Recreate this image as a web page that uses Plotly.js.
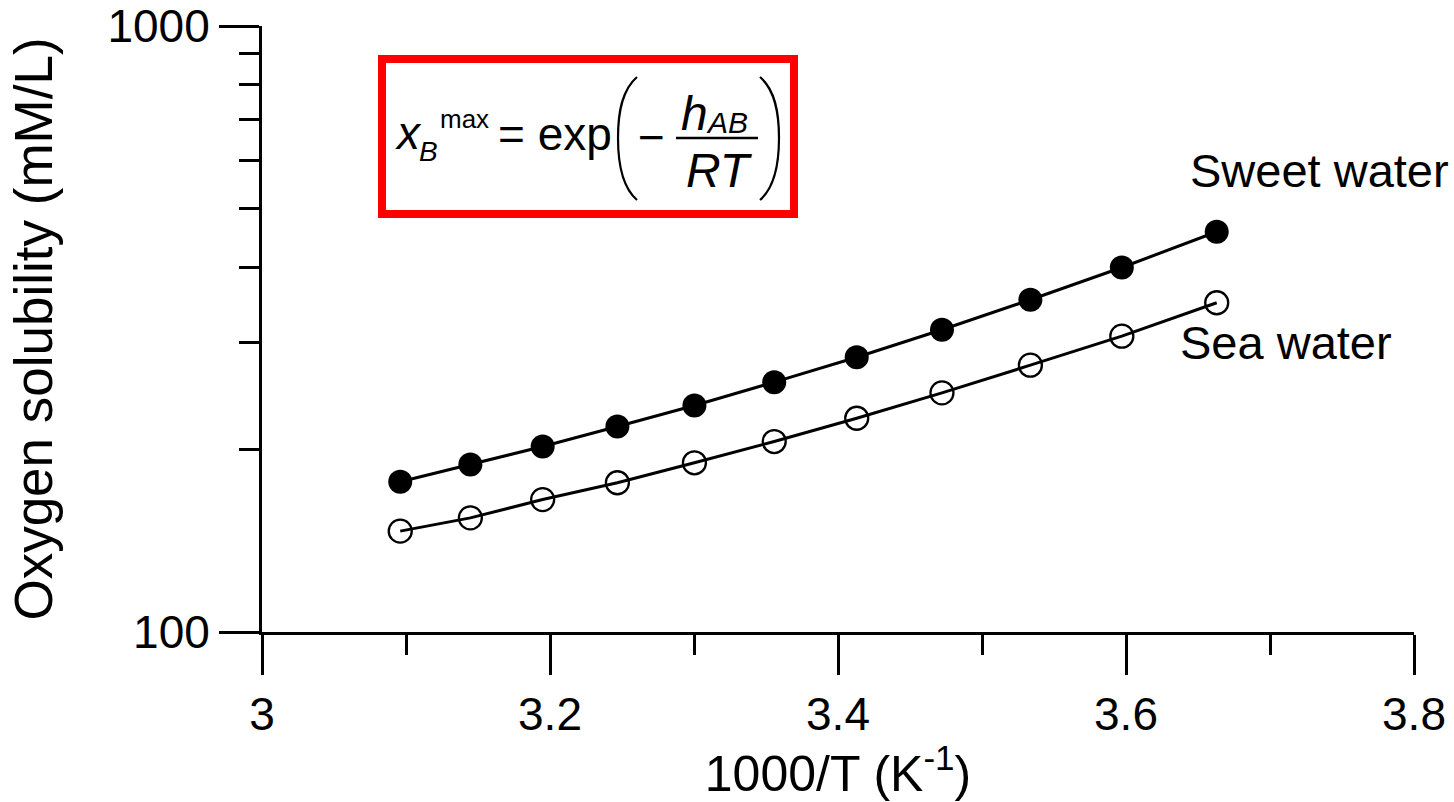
<!DOCTYPE html>
<html>
<head>
<meta charset="utf-8">
<script src="https://cdn.plot.ly/plotly-3.0.1.min.js"></script>
<style>
  html, body { margin: 0; padding: 0; background: #fff; }
  #chart { width: 1454px; height: 802px; }
</style>
</head>
<body>
<div id="chart"></div>
<script>
// ---- data ----
const invT = [3.0960, 3.1447, 3.1949, 3.2468, 3.3003, 3.3557, 3.4130, 3.4722, 3.5336, 3.5971, 3.6630];
const sweetWater = [177.0, 189.0, 202.3, 218.3, 236.5, 258.4, 284.1, 315.3, 353.4, 399.5, 457.6];
const seaWater = [146.7, 154.3, 165.4, 176.3, 190.2, 206.2, 225.3, 248.1, 275.6, 307.7, 349.4];
const seriesNames = ["Sweet water", "Sea water"];
const yTickVals = [100, 1000];
const yTickText = ["100", "1000"];
const yMinorVals = [200, 300, 400, 500, 600, 700, 800, 900];

// ---- layout geometry ----
const W = 1454, H = 802;
const M = { l: 262, r: 40, t: 26, b: 170 };
const PW = W - M.l - M.r, PH = H - M.t - M.b;
const px = x => (x - M.l) / PW;
const py = y => (H - M.b - y) / PH;
const FONT = "Liberation Sans, Arial, Helvetica, sans-serif";

function ann(text, x, y, size, xanchor, extra) {
  return Object.assign({
    text: text, xref: "paper", yref: "paper", x: px(x), y: py(y),
    xanchor: xanchor || "left", yanchor: "middle", showarrow: false,
    font: { family: FONT, size: size, color: "#000" },
    borderpad: 0, borderwidth: 0
  }, extra || {});
}
function P(x, y) { return px(x).toFixed(5) + "," + py(y).toFixed(5); }

const traces = [
  {
    x: invT, y: sweetWater, name: seriesNames[0], type: "scatter", mode: "lines+markers",
    line: { color: "#000", width: 3 },
    marker: { symbol: "circle", size: 24, color: "#000" }
  },
  {
    x: invT, y: seaWater, name: seriesNames[1], type: "scatter", mode: "lines+markers",
    line: { color: "#000", width: 3 },
    marker: { symbol: "circle-open", size: 23, color: "#000", line: { width: 2.3, color: "#000" } }
  }
];

const layout = {
  width: W, height: H,
  margin: M,
  paper_bgcolor: "#fff", plot_bgcolor: "#fff",
  showlegend: false,
  font: { family: FONT, color: "#000" },
  xaxis: {
    range: [3, 3.8], tickmode: "linear", tick0: 3, dtick: 0.2,
    showgrid: false, zeroline: false,
    showline: true, linecolor: "#000", linewidth: 3,
    ticks: "outside", ticklen: 40, tickwidth: 3, tickcolor: "#000",
    minor: { dtick: 0.1, ticks: "outside", ticklen: 20, tickwidth: 3, tickcolor: "#000", showgrid: false },
    tickfont: { family: FONT, size: 46, color: "#000" },
    title: { text: "1000/T (K<sup>-1</sup>)", font: { family: FONT, size: 50, color: "#000" }, standoff: 6 }
  },
  yaxis: {
    type: "log", range: [2, 3],
    tickmode: "array", tickvals: yTickVals, ticktext: yTickText,
    showgrid: false, zeroline: false,
    showline: true, linecolor: "#000", linewidth: 3,
    ticks: "outside", ticklen: 40, tickwidth: 3, tickcolor: "#000",
    minor: { tickmode: "array", tickvals: yMinorVals, ticks: "outside", ticklen: 20, tickwidth: 3, tickcolor: "#000", showgrid: false },
    tickfont: { family: FONT, size: 46, color: "#000" },
    title: { text: "Oxygen solubility (mM/L)", font: { family: FONT, size: 53, color: "#000" }, standoff: 38 }
  },
  shapes: [
    // red frame around the formula
    { type: "rect", xref: "paper", yref: "paper", x0: px(382), x1: px(794), y0: py(59), y1: py(214),
      line: { color: "#ff0000", width: 8 }, fillcolor: "rgba(0,0,0,0)" },
    // fraction bar
    { type: "line", xref: "paper", yref: "paper", x0: px(676), x1: px(758), y0: py(138), y1: py(138),
      line: { color: "#000", width: 2.5 } },
    // big left parenthesis
    { type: "path", xref: "paper", yref: "paper",
      path: "M" + P(637, 77) + " C" + P(622, 90) + " " + P(618, 112) + " " + P(618, 138) +
            " C" + P(618, 164) + " " + P(622, 187) + " " + P(637, 200),
      line: { color: "#000", width: 2.2 } },
    // big right parenthesis
    { type: "path", xref: "paper", yref: "paper",
      path: "M" + P(760, 77) + " C" + P(775, 90) + " " + P(779, 112) + " " + P(779, 138) +
            " C" + P(779, 164) + " " + P(775, 187) + " " + P(760, 200),
      line: { color: "#000", width: 2.2 } }
  ],
  annotations: [
    ann("<i>x</i>", 395, 133, 46),
    ann("<i>B</i>", 419, 151, 28),
    ann("max", 440, 119, 26),
    ann("= exp", 498, 134, 46),
    ann("\u2212", 638, 137, 46),
    ann("<i>h</i>", 681, 114, 48),
    ann("<i>AB</i>", 706, 122, 30),
    ann("<i>RT</i>", 719, 171, 48, "center"),
    ann(seriesNames[0], 1319, 170, 47, "center"),
    ann(seriesNames[1], 1286, 343, 47, "center")
  ]
};

Plotly.newPlot("chart", traces, layout, { staticPlot: true, displayModeBar: false });
</script>
</body>
</html>
